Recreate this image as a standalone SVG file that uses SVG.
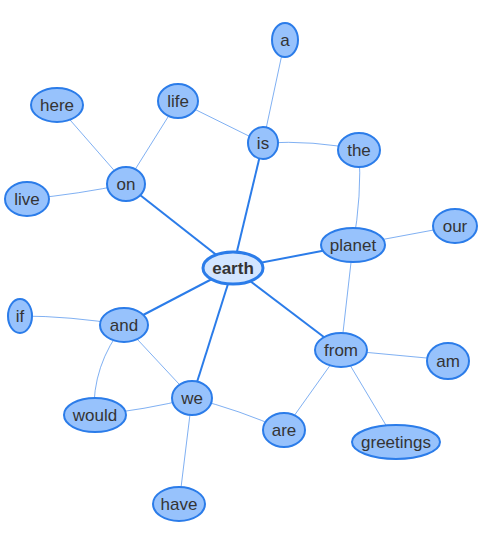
<svg xmlns="http://www.w3.org/2000/svg" width="500" height="550" viewBox="0 0 500 550">
<style>
.n ellipse{fill:#97c2fc;stroke:#2b7ce9;stroke-width:2}
.n text{font-family:"Liberation Sans",Arial,sans-serif;font-size:17px;fill:#343434;text-anchor:middle;dominant-baseline:central}
#n-earth ellipse{fill:#d2e5ff;stroke-width:3}
#n-earth text{font-weight:bold}
.e path{fill:none}
.thin{stroke:#2b7ce9;stroke-opacity:0.6;stroke-width:1}
.thick{stroke:#2b7ce9;stroke-width:2}
</style>
<rect width="500" height="550" fill="#fff"/>
<g id="edges" class="e">
<path class="thick" d="M233,268 L263,143"/>
<path class="thick" d="M233,268 L126,184"/>
<path class="thick" d="M233,268 L353,245"/>
<path class="thick" d="M233,268 L341,350"/>
<path class="thick" d="M233,268 L124,325"/>
<path class="thick" d="M233,268 L192,398"/>
<path class="thin" d="M285,40 L263,143"/>
<path class="thin" d="M263,143 L178,101"/>
<path class="thin" d="M263,143 Q315,140 359,150"/>
<path class="thin" d="M359,150 Q362,195 353,245"/>
<path class="thin" d="M353,245 L455,226"/>
<path class="thin" d="M353,245 L341,350"/>
<path class="thin" d="M126,184 L57,105"/>
<path class="thin" d="M126,184 L178,101"/>
<path class="thin" d="M126,184 Q80,194 27,199"/>
<path class="thin" d="M124,325 Q70,316 20,316"/>
<path class="thin" d="M124,325 Q92,365 94,415"/>
<path class="thin" d="M124,325 L192,398"/>
<path class="thin" d="M192,398 Q145,410 94,415"/>
<path class="thin" d="M192,398 Q240,410 284,430"/>
<path class="thin" d="M192,398 L179,504"/>
<path class="thin" d="M341,350 L284,430"/>
<path class="thin" d="M341,350 L448,360"/>
<path class="thin" d="M341,350 L396,442"/>
</g>
<g id="n-a" class="n"><ellipse cx="285" cy="40" rx="13" ry="17"/><text x="285" y="40">a</text></g>
<g id="n-life" class="n"><ellipse cx="178" cy="101" rx="20" ry="17"/><text x="178" y="101">life</text></g>
<g id="n-here" class="n"><ellipse cx="57" cy="105" rx="26" ry="17"/><text x="57" y="105">here</text></g>
<g id="n-is" class="n"><ellipse cx="263" cy="143" rx="15" ry="16"/><text x="263" y="143">is</text></g>
<g id="n-the" class="n"><ellipse cx="359" cy="150" rx="21" ry="17"/><text x="359" y="150">the</text></g>
<g id="n-on" class="n"><ellipse cx="126" cy="184" rx="19" ry="17"/><text x="126" y="184">on</text></g>
<g id="n-live" class="n"><ellipse cx="27" cy="199" rx="22" ry="17"/><text x="27" y="199">live</text></g>
<g id="n-our" class="n"><ellipse cx="455" cy="226" rx="22" ry="17"/><text x="455" y="226">our</text></g>
<g id="n-planet" class="n"><ellipse cx="353" cy="245" rx="32" ry="17"/><text x="353" y="245">planet</text></g>
<g id="n-earth" class="n"><ellipse cx="233" cy="268" rx="30" ry="16"/><text x="233" y="268">earth</text></g>
<g id="n-if" class="n"><ellipse cx="20" cy="316" rx="12" ry="17"/><text x="20" y="316">if</text></g>
<g id="n-and" class="n"><ellipse cx="124" cy="325" rx="24" ry="17"/><text x="124" y="325">and</text></g>
<g id="n-from" class="n"><ellipse cx="341" cy="350" rx="26" ry="17"/><text x="341" y="350">from</text></g>
<g id="n-am" class="n"><ellipse cx="448" cy="361" rx="21" ry="18"/><text x="448" y="361">am</text></g>
<g id="n-we" class="n"><ellipse cx="192" cy="398" rx="20" ry="17"/><text x="192" y="398">we</text></g>
<g id="n-would" class="n"><ellipse cx="95" cy="415" rx="31" ry="17"/><text x="95" y="415">would</text></g>
<g id="n-are" class="n"><ellipse cx="284" cy="430" rx="21" ry="17"/><text x="284" y="430">are</text></g>
<g id="n-greetings" class="n"><ellipse cx="396" cy="442" rx="44" ry="17"/><text x="396" y="442">greetings</text></g>
<g id="n-have" class="n"><ellipse cx="179" cy="504" rx="26" ry="17"/><text x="179" y="504">have</text></g>
</svg>
